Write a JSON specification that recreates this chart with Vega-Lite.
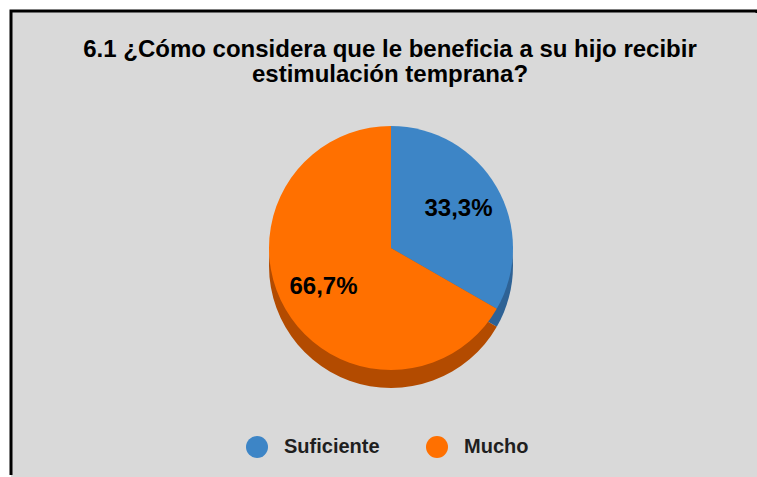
{
  "$schema": "https://vega.github.io/schema/vega-lite/v6.json",
  "width": 746,
  "height": 466,
  "autosize": {"type": "none"},
  "padding": {"left": 11, "top": 11, "right": 0, "bottom": 0},
  "background": "#ffffff",
  "view": {"fill": "#d9d9d9", "stroke": "#000000", "strokeWidth": 3, "strokeDash": [748, 1212, 468]},
  "config": {
    "locale": {"number": {"decimal": ",", "thousands": ".", "grouping": [3], "currency": ["", " €"]}}
  },
  "title": {
    "text": ["6.1 ¿Cómo considera que le beneficia a su hijo recibir", "estimulación temprana?"],
    "font": "Liberation Sans",
    "fontSize": 24,
    "fontWeight": "bold",
    "color": "#000000",
    "anchor": "middle",
    "offset": -76,
    "dx": 6,
    "lineHeight": 25
  },
  "data": {
    "values": [
      {"respuesta": "Suficiente", "porcentaje": 0.333},
      {"respuesta": "Mucho", "porcentaje": 0.667}
    ]
  },
  "encoding": {
    "theta": {"field": "porcentaje", "type": "quantitative", "stack": true},
    "order": {"field": "porcentaje", "type": "quantitative"}
  },
  "layer": [
    {
      "mark": {"type": "arc", "outerRadius": 122, "xOffset": 7, "yOffset": 22},
      "encoding": {
        "color": {
          "field": "respuesta",
          "type": "nominal",
          "scale": {"domain": ["Suficiente", "Mucho"], "range": ["#2e6295", "#b34b00"]},
          "legend": null
        }
      }
    },
    {
      "mark": {"type": "arc", "outerRadius": 122, "xOffset": 7, "yOffset": 4},
      "encoding": {
        "color": {
          "field": "respuesta",
          "type": "nominal",
          "scale": {"domain": ["Suficiente", "Mucho"], "range": ["#3d85c6", "#ff7000"]},
          "legend": {
            "orient": "none",
            "legendX": 235,
            "legendY": 425,
            "direction": "horizontal",
            "title": null,
            "symbolType": "circle",
            "symbolSize": 484,
            "symbolStrokeWidth": 0,
            "symbolOpacity": 1,
            "labelFont": "Liberation Sans",
            "labelFontSize": 20,
            "labelFontWeight": "bold",
            "labelColor": "#1f1f1f",
            "labelOffset": 16,
            "columnPadding": 46
          }
        }
      }
    },
    {
      "mark": {"type": "text", "radius": 78, "xOffset": 7, "yOffset": 4, "font": "Liberation Sans", "fontSize": 24, "fontWeight": "bold", "color": "#000000"},
      "encoding": {
        "text": {"field": "porcentaje", "type": "quantitative", "format": ".1%"}
      }
    }
  ],
  "resolve": {"scale": {"color": "independent"}}
}
